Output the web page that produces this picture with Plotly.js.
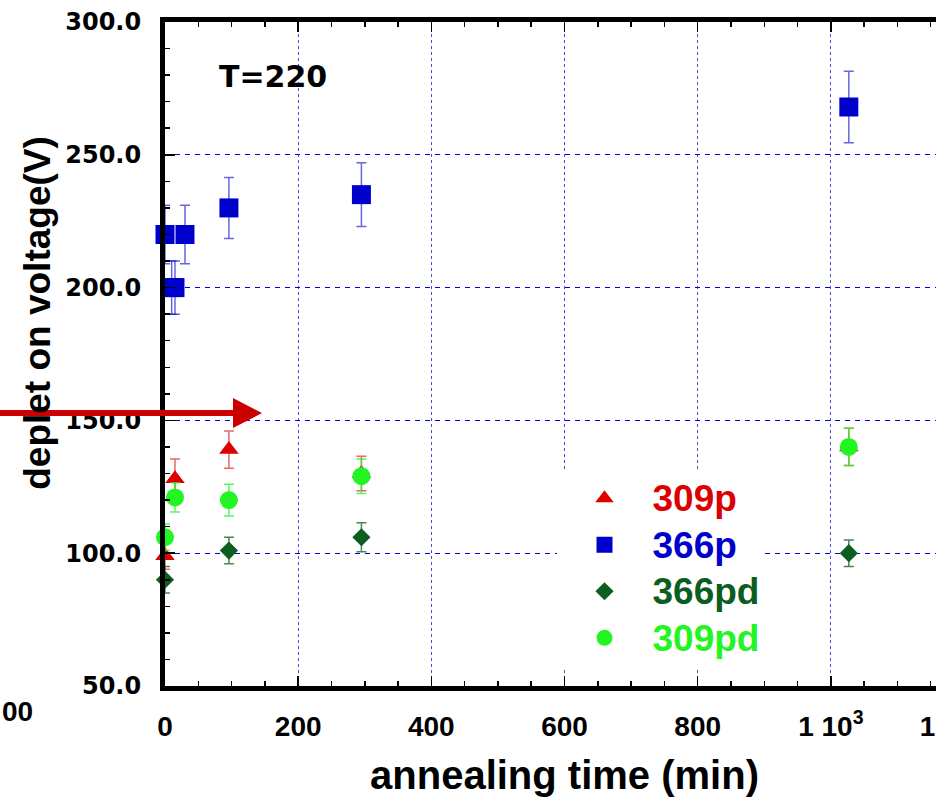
<!DOCTYPE html>
<html><head><meta charset="utf-8">
<script src="https://cdn.plot.ly/plotly-3.0.1.min.js"></script>
<style>html,body{margin:0;padding:0;overflow:hidden;background:#fff}#chart{width:1000px;height:805px}</style>
</head><body><div id="chart"></div>
<script>
// ---- data ----
const seriesNames = ['309p', '366p', '366pd', '309pd'];
const x309p = [0, 15, 96, 295, 1027];
const y309p = [99, 128, 139, 130, 140];
const e309p = [5, 7.5, 7, 6.5, 7];
const x366p = [0, 10, 15, 30, 96, 295, 1027];
const y366p = [220, 200, 200, 220, 230, 235, 268];
const e366p = [11, 10, 10, 11, 11.5, 12, 13.5];
const x366pd = [0, 96, 295, 1027];
const y366pd = [90, 101, 106, 100];
const e366pd = [5, 5, 5.5, 5];
const x309pd = [0, 15, 96, 295, 1027];
const y309pd = [106, 121, 120, 129, 140];
const e309pd = [5, 5.5, 6, 6.5, 7];
const xTickVals = [0, 200, 400, 600, 800, 1000, 1200];
const xTickText = ['0', '200', '400', '600', '800', '1 10<sup>3</sup>', '1.2 10<sup>3</sup>'];
const tempLabel = 'T=220';
const xTitle = 'annealing time (min)';
const yTitle = 'deplet on voltage(V)';

const ARIAL = 'Liberation Sans, Arial, sans-serif';
const WIDE = 'DejaVu Sans, sans-serif';

function tr(name, x, y, e, color, errColor, symbol, size) {
  return {
    type: 'scatter', mode: 'markers', x: x, y: y, cliponaxis: false,
    name: '<span style="color:' + color + ';font-size:37px">' + name + '</span>',
    marker: {symbol: symbol, size: size, color: color, line: {width: 0}},
    error_y: {type: 'data', array: e, visible: true, color: errColor, thickness: 1.5, width: 5}
  };
}

const data = [
  tr(seriesNames[0], x309p, y309p, e309p, '#dd0000', 'rgba(221,0,0,0.6)', 'triangle-up', 17),
  tr(seriesNames[1], x366p, y366p, e366p, '#0000cc', 'rgba(0,0,204,0.6)', 'square', 19),
  tr(seriesNames[2], x366pd, y366pd, e366pd, '#0b5e1e', 'rgba(11,94,30,0.75)', 'diamond', 14),
  tr(seriesNames[3], x309pd, y309pd, e309pd, '#22f522', 'rgba(34,245,34,0.75)', 'circle', 18)
];

const layout = {
  width: 1000, height: 805,
  margin: {l: 165, r: 36, t: 22, b: 119},
  paper_bgcolor: '#fff', plot_bgcolor: '#fff',
  showlegend: true,
  legend: {
    x: 0.49, y: 0.3255, xanchor: 'left', yanchor: 'top',
    bgcolor: '#fff', borderwidth: 0, itemwidth: 86,
    font: {family: ARIAL, size: 33.5, weight: 'bold', color: '#000'},
    tracegroupgap: 0
  },
  xaxis: {
    range: [0, 1200], tickvals: xTickVals, ticktext: xTickText,
    showline: true, linecolor: '#000', linewidth: 5, mirror: 'allticks',
    ticks: 'inside', ticklen: 10, tickwidth: 1.5, tickcolor: '#000',
    minor: {dtick: 50, tick0: 0, ticks: 'inside', ticklen: 5, tickwidth: 1.5, tickcolor: '#000', showgrid: false},
    showgrid: true, gridcolor: '#4a4ae8', gridwidth: 1.2, griddash: 'dot',
    zeroline: false,
    tickfont: {family: ARIAL, size: 28, weight: 'bold', color: '#000'},
    ticklabelstandoff: 11, ticklabeloverflow: 'allow',
    title: {text: xTitle, font: {family: ARIAL, size: 40, weight: 'bold', color: '#000'}, standoff: 22},
    layer: 'above traces'
  },
  yaxis: {
    range: [50, 300], tick0: 50, dtick: 50, tickformat: '.1f',
    showline: true, linecolor: '#000', linewidth: 5, mirror: 'allticks',
    ticks: 'inside', ticklen: 10, tickwidth: 1.5, tickcolor: '#000',
    minor: {dtick: 10, tick0: 50, ticks: 'inside', ticklen: 5, tickwidth: 1.5, tickcolor: '#000', showgrid: false},
    showgrid: true, gridcolor: '#0000dd', gridwidth: 1, griddash: '5px,5px',
    zeroline: false,
    tickfont: {family: WIDE, size: 24, weight: 'bold', color: '#000'},
    ticklabelstandoff: 14,
    layer: 'above traces'
  },
  shapes: [
    {type: 'line', xref: 'paper', yref: 'paper', x0: -0.21, x1: 0.09, y0: 0.4111, y1: 0.4111,
     line: {color: '#cc0000', width: 6}},
    {type: 'path', xref: 'paper', yref: 'paper', xanchor: 0.1214, yanchor: 0.4111,
     xsizemode: 'pixel', ysizemode: 'pixel', path: 'M0,0 L-29,15 L-29,-15 Z',
     fillcolor: '#cc0000', line: {width: 0}}
  ],
  annotations: [
    {xref: 'x', yref: 'y', x: 162, y: 279.3, text: tempLabel, showarrow: false,
     font: {family: WIDE, size: 30, weight: 'bold', color: '#000'}},
    {xref: 'paper', yref: 'paper', x: -0.159, y: 0.562, xanchor: 'center', yanchor: 'middle',
     text: yTitle, showarrow: false, textangle: -90,
     font: {family: ARIAL, size: 37, weight: 'bold', color: '#000'}},
    {xref: 'paper', yref: 'paper', x: -0.2065, y: -0.038, xanchor: 'left', yanchor: 'middle', text: '00', showarrow: false,
     font: {family: ARIAL, size: 28, weight: 'bold', color: '#000'}}
  ]
};

Plotly.newPlot('chart', data, layout, {displayModeBar: false, staticPlot: true});
</script>
</body></html>
